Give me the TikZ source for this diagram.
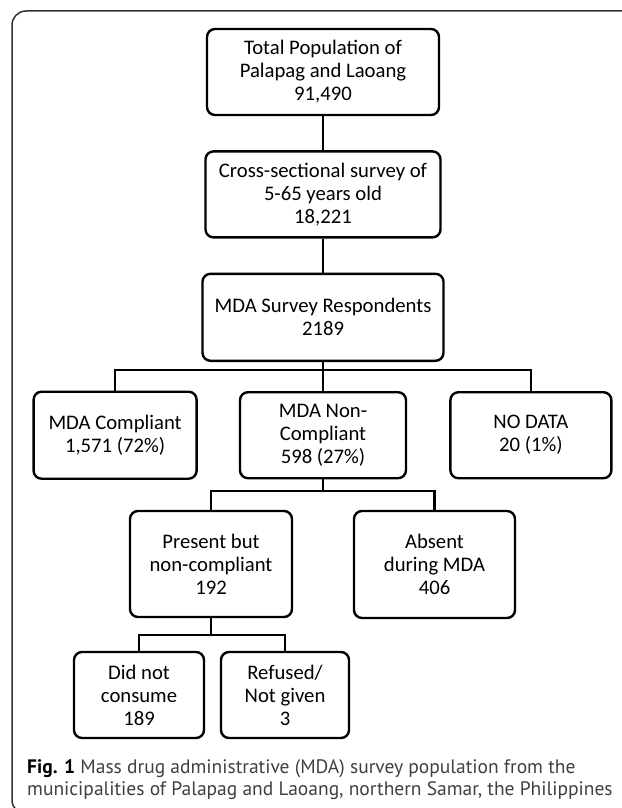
\documentclass[tikz,border=0pt]{standalone}
\usepackage{fontspec}
\setmainfont{Carlito}
\newfontfamily\capfont{PT Sans}
\usetikzlibrary{positioning}

\tikzset{
  flowbox/.style={draw, rounded corners=8pt, line width=2.4pt, align=center,
    inner sep=0pt, font=\fontsize{20.7}{23}\selectfont},
  link/.style={line width=2.4pt},
  frame/.style={draw=black!80, line width=1.5pt, rounded corners=14pt},
  caption/.style={anchor=base west, inner sep=0pt, text=black!75,
    font=\capfont\fontsize{19.5}{22}\selectfont}
}

\begin{document}
\begin{tikzpicture}[x=1pt,y=-1pt]
\useasboundingbox (0,0) rectangle (621,808);
\draw[frame] (12,11) rectangle (650,814);

% main chain
\node[flowbox, minimum width=232pt, minimum height=86pt] (total) at (323,72)
  {Total Population of\\Palapag and Laoang\\91,490};
\node[flowbox, minimum width=235pt, minimum height=86pt, below=34pt of total] (survey)
  {Cross-sectional survey of\\5-65 years old\\18,221};
\node[flowbox, minimum width=241pt, minimum height=87pt, below=34pt of survey] (resp)
  {MDA Survey Respondents\\2189};

% compliance
\node[flowbox, minimum width=166pt, minimum height=86pt, below=29pt of resp] (noncomp)
  {MDA Non-\\Compliant\\598 (27\%)};
\node[flowbox, minimum width=163pt, minimum height=87pt, left=41pt of noncomp] (comp)
  {MDA Compliant\\1,571 (72\%)};
\node[flowbox, minimum width=161pt, minimum height=86pt, right=42pt of noncomp] (nodata)
  {NO DATA\\20 (1\%)};

% reasons
\node[flowbox, minimum width=162pt, minimum height=106pt] (present) at (211,564)
  {Present but\\non-compliant\\192};
\node[flowbox, minimum width=161pt, minimum height=107pt] (absent) at (434.5,564.5)
  {Absent\\during MDA\\406};
\node[flowbox, minimum width=130pt, minimum height=86pt] (didnot) at (139,695)
  {Did not\\consume\\189};
\node[flowbox, minimum width=128pt, minimum height=86pt] (refused) at (285,695)
  {Refused/\\Not given\\3};

\coordinate (bus1) at (323,370);
\coordinate (bus2) at (323,491);
\coordinate (bus3) at (211,635);

\draw[link] (total) -- (survey);
\draw[link] (survey) -- (resp);
\draw[link] (resp.south) -- (bus1);
\draw[link] (comp.north) |- (bus1) -| (nodata.north);
\draw[link] (bus1) -- (noncomp.north);
\draw[link] (noncomp.south) -- (bus2);
\draw[link] (present.north) |- (bus2) -| (absent.north);
\draw[link] (present.south) -- (bus3);
\draw[link] (didnot.north) |- (bus3) -| (refused.north);

% caption
\node[caption] (cap1) at (27,773)
  {{\color{black}\bfseries Fig. 1} Mass drug administrative (MDA) survey population from the};
\node[caption] (cap2) at (27,795)
  {municipalities of Palapag and Laoang, northern Samar, the Philippines};
\end{tikzpicture}
\end{document}
